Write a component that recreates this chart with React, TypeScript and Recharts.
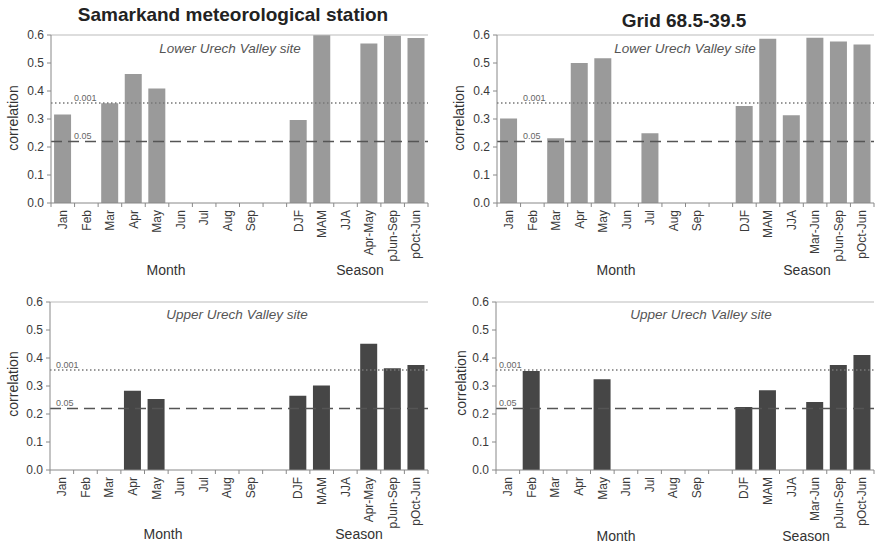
import { Bar, BarChart, ReferenceLine, XAxis, YAxis } from "recharts"

const MONTHS = ["Jan", "Feb", "Mar", "Apr", "May", "Jun", "Jul", "Aug", "Sep"]
const STATION_SEASONS = ["DJF", "MAM", "JJA", "Apr-May", "pJun-Sep", "pOct-Jun"]
const GRID_SEASONS = ["DJF", "MAM", "JJA", "Mar-Jun", "pJun-Sep", "pOct-Jun"]
const STATION_CATS = [...MONTHS, "", ...STATION_SEASONS]
const GRID_CATS = [...MONTHS, "", ...GRID_SEASONS]

// null = not significant / not shown
const STATION_LOWER = [0.316, null, 0.356, 0.461, 0.409, null, null, null, null, null, 0.296, 0.62, null, 0.57, 0.597, 0.589]
const GRID_LOWER = [0.302, null, 0.231, 0.5, 0.517, null, 0.249, null, null, null, 0.346, 0.587, 0.313, 0.59, 0.577, 0.566]
const STATION_UPPER = [null, null, null, 0.283, 0.254, null, null, null, null, null, 0.265, 0.302, null, 0.451, 0.363, 0.375]
const GRID_UPPER = [null, 0.354, null, null, 0.324, null, null, null, null, null, 0.225, 0.285, null, 0.243, 0.375, 0.411]

const Y_TICKS = [0, 0.1, 0.2, 0.3, 0.4, 0.5, 0.6]
const P001 = 0.357
const P05 = 0.22

const FONT = "'Liberation Sans', Arial, sans-serif"
const LIGHT = "#9a9a9a"
const DARK = "#464646"

type PanelProps = {
  left: number
  top: number
  height: number
  margin: { top: number; right: number; left: number; bottom: number }
  cats: string[]
  values: (number | null)[]
  color: string
  labelOffset: number
}

const WIDTH = 440
const Y_WIDTH = 30

function Panel({ left, top, height, margin, cats, values, color, labelOffset }: PanelProps) {
  const data = cats.map((c, i) => ({ cat: c, r: values[i] }))
  const plotW = WIDTH - margin.left - margin.right - Y_WIDTH
  const step = plotW / cats.length

  const XTick = (props: any) => {
    const { x, y, payload, index } = props
    const axisY = y - 7
    return (
      <g>
        <line x1={x - step / 2} x2={x - step / 2} y1={axisY} y2={axisY + 4} stroke="#888" />
        {index === cats.length - 1 && (
          <line x1={x + step / 2} x2={x + step / 2} y1={axisY} y2={axisY + 4} stroke="#888" />
        )}
        <text
          x={x}
          y={y}
          transform={`rotate(-90 ${x} ${y})`}
          textAnchor="end"
          dy="0.35em"
          fontSize={12}
          fill="#3a3a3a"
          fontFamily={FONT}
        >
          {payload.value}
        </text>
      </g>
    )
  }

  const refLabel = (text: string) => (p: any) => (
    <text
      x={p.viewBox.x + labelOffset}
      y={p.viewBox.y - 2}
      fontSize={9}
      fill="#666"
      fontFamily={FONT}
    >
      {text}
    </text>
  )

  return (
    <div style={{ position: "absolute", left, top }}>
      <BarChart width={WIDTH} height={height} data={data} margin={margin} barCategoryGap="13%">
        <XAxis
          dataKey="cat"
          interval={0}
          height={60}
          tickLine={false}
          tickSize={4}
          tickMargin={3}
          axisLine={{ stroke: "#888" }}
          tick={<XTick />}
        />
        <YAxis
          domain={[0, 0.6]}
          ticks={Y_TICKS}
          allowDataOverflow
          width={Y_WIDTH}
          tickSize={4}
          tickMargin={3}
          tickFormatter={(v: number) => v.toFixed(1)}
          tick={{ fontSize: 12, fill: "#3a3a3a", fontFamily: FONT }}
          tickLine={{ stroke: "#888" }}
          axisLine={{ stroke: "#888" }}
        />
        <YAxis
          yAxisId="frame"
          orientation="right"
          domain={[0, 0.6]}
          width={0}
          tick={false}
          tickLine={false}
          axisLine={{ stroke: "#bbb" }}
        />
        <ReferenceLine y={0.6} stroke="#bbb" />
        <Bar dataKey="r" fill={color} isAnimationActive={false} />
        <ReferenceLine
          y={P001}
          stroke="#777"
          strokeWidth={1.5}
          strokeDasharray="1.5 2.5"
          label={{ content: refLabel("0.001") }}
        />
        <ReferenceLine
          y={P05}
          stroke="#555"
          strokeWidth={1.5}
          strokeDasharray="11 6"
          label={{ content: refLabel("0.05") }}
        />
      </BarChart>
    </div>
  )
}

function Txt({
  x,
  y,
  children,
  size = 14,
  bold,
  italic,
  rotate,
  color = "#333",
}: {
  x: number
  y: number
  children: string
  size?: number
  bold?: boolean
  italic?: boolean
  rotate?: boolean
  color?: string
}) {
  return (
    <div
      style={{
        position: "absolute",
        left: x,
        top: y,
        transform: `translate(-50%, -50%)${rotate ? " rotate(-90deg)" : ""}`,
        whiteSpace: "nowrap",
        fontFamily: FONT,
        fontSize: size,
        fontWeight: bold ? "bold" : "normal",
        fontStyle: italic ? "italic" : "normal",
        color,
        lineHeight: 1,
      }}
    >
      {children}
    </div>
  )
}

export default function App() {
  return (
    <div style={{ position: "absolute", left: 0, top: 0, width: 876, height: 546, background: "#fff", overflow: "hidden" }}>
      <Panel
        left={0}
        top={0}
        height={290}
        margin={{ top: 35, right: 12, left: 21, bottom: 27 }}
        cats={STATION_CATS}
        values={STATION_LOWER}
        color={LIGHT}
        labelOffset={23}
      />
      <Panel
        left={436}
        top={0}
        height={290}
        margin={{ top: 35, right: 2, left: 31, bottom: 27 }}
        cats={GRID_CATS}
        values={GRID_LOWER}
        color={LIGHT}
        labelOffset={26}
      />
      <Panel
        left={0}
        top={290}
        height={256}
        margin={{ top: 12, right: 12, left: 20, bottom: 16 }}
        cats={STATION_CATS}
        values={STATION_UPPER}
        color={DARK}
        labelOffset={6}
      />
      <Panel
        left={436}
        top={290}
        height={256}
        margin={{ top: 12, right: 2, left: 30, bottom: 16 }}
        cats={GRID_CATS}
        values={GRID_UPPER}
        color={DARK}
        labelOffset={3}
      />

      <Txt x={233} y={14} size={19} bold color="#222">Samarkand meteorological station</Txt>
      <Txt x={684} y={20} size={19} bold color="#222">Grid 68.5-39.5</Txt>

      <Txt x={230} y={49} size={13.5} italic color="#555">Lower Urech Valley site</Txt>
      <Txt x={685} y={49} size={13.5} italic color="#555">Lower Urech Valley site</Txt>
      <Txt x={237} y={315} size={13.5} italic color="#555">Upper Urech Valley site</Txt>
      <Txt x={701} y={315} size={13.5} italic color="#555">Upper Urech Valley site</Txt>

      <Txt x={13} y={118} rotate>correlation</Txt>
      <Txt x={459} y={118} rotate>correlation</Txt>
      <Txt x={13} y={384} rotate>correlation</Txt>
      <Txt x={461} y={383} rotate>correlation</Txt>

      <Txt x={166} y={270}>Month</Txt>
      <Txt x={360} y={270}>Season</Txt>
      <Txt x={616} y={270}>Month</Txt>
      <Txt x={807} y={270}>Season</Txt>
      <Txt x={163} y={534}>Month</Txt>
      <Txt x={359} y={534}>Season</Txt>
      <Txt x={616} y={536}>Month</Txt>
      <Txt x={806} y={536}>Season</Txt>
    </div>
  )
}
